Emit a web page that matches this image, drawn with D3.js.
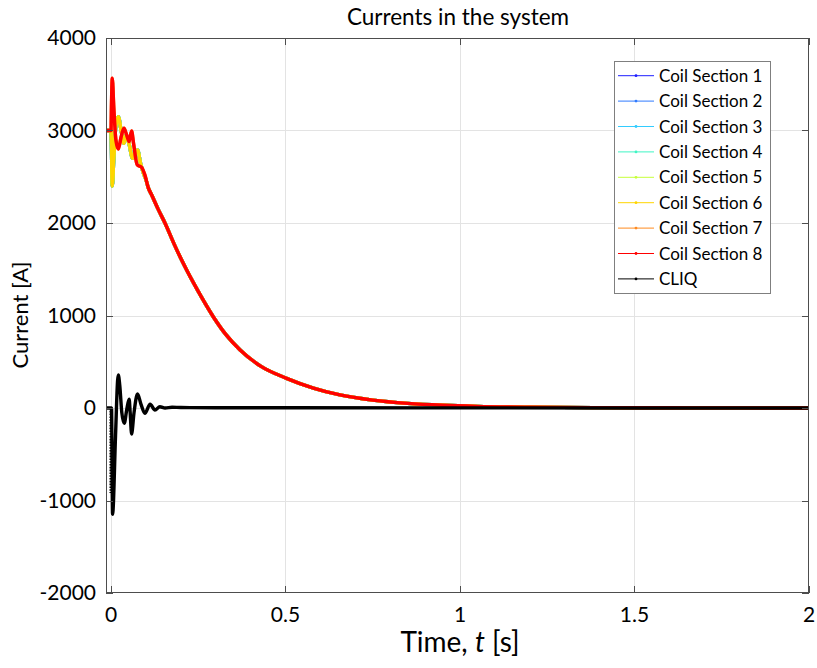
<!DOCTYPE html>
<html><head><meta charset="utf-8">
<script src="https://cdn.jsdelivr.net/npm/d3@7"></script>
<style>
body{margin:0;background:#fff;}
text{font-family:Lato,"Open Sans",sans-serif;fill:#000;}
</style></head>
<body><svg id="chart" width="817" height="668"></svg>
<script>
// ---------- data ----------
const seriesNames = ["Coil Section 1","Coil Section 2","Coil Section 3","Coil Section 4","Coil Section 5","Coil Section 6","Coil Section 7","Coil Section 8","CLIQ"];
const seriesColors = ["#1f1fff","#2f7bff","#33ccff","#3ff5c4","#c6ff3a","#ffd500","#ff8a1f","#ff0000","#000000"];

// shared decay tail (s) and values (A)
const tailT = [0.107,0.117,0.135,0.155,0.18,0.207,0.25,0.293,0.33,0.37,0.43,0.503,0.58,0.656,0.75,0.85,0.95,1.05,1.2,1.4,1.6,1.8,2.0];
const tailV = [2380,2300,2150,1997,1780,1564,1260,987,790,627,450,321,215,141,85,50,30,18,9,4,2,1,0];

// sections 1-6 (yellow trace visible on top of 1-5)
const coilAT = [-0.0143,0,0.0037,0.008,0.014,0.021,0.029,0.037,0.044,0.052,0.062,0.07,0.076,0.085,0.093,0.1].concat(tailT);
const coilAV = [3000,3000,2400,2700,3050,3150,3000,2862,2951,2850,2700,2760,2790,2640,2537,2470].concat(tailV);

// sections 7-8 (red trace)
const coilBT = [-0.0143,0,0.0015,0.0037,0.008,0.014,0.021,0.029,0.037,0.045,0.052,0.059,0.065,0.075,0.088,0.097].concat(tailT);
const coilBV = [3000,3000,3300,3565,3250,2900,2800,2930,3025,2950,2880,2995,2850,2630,2600,2520].concat(tailV);

// CLIQ current
const cliqT = [-0.0143,0.0015,0.0045,0.013,0.019,0.021,0.025,0.031,0.038,0.045,0.052,0.055,0.059,0.066,0.076,0.086,0.097,0.112,0.126,0.14,0.155,0.175,0.2,0.3,0.5,1.0,2.0];
const cliqV = [0,0,-1150,-300,300,357,250,-50,-166,-20,94,-50,-281,-50,151,40,-58,40,-22,14,0,8,5,3,2,1,0];
// CLIQ discharge instant, shown with markers
const cliqDropT = [-0.0012,-0.0012];
const cliqDropV = [0,-920];

const xTicks = [0,0.5,1,1.5,2];
const yTicks = [-2000,-1000,0,1000,2000,3000,4000];

const seriesT = [coilAT,coilAT,coilAT,coilAT,coilAT,coilAT,coilBT,coilBT,cliqT];
const seriesV = [coilAV,coilAV,coilAV,coilAV,coilAV,coilAV,coilBV,coilBV,cliqV];

// ---------- layout ----------
const svg = d3.select("#chart");
const L = 106, R = 809, T = 38, B = 593;
const x = d3.scaleLinear().domain([-0.0143, 2]).range([L, R]);
const y = d3.scaleLinear().domain([-2000, 4000]).range([B, T]);

svg.append("rect").attr("x",L).attr("y",T).attr("width",R-L).attr("height",B-T).attr("fill","#fff");

// grid
const grid = svg.append("g").attr("stroke","#e3e3e3").attr("stroke-width",1);
grid.selectAll("line.gx").data(xTicks.filter(d=>d<2)).enter().append("line")
  .attr("x1",d=>Math.round(x(d))+0.5).attr("x2",d=>Math.round(x(d))+0.5).attr("y1",T).attr("y2",B);
grid.selectAll("line.gy").data(yTicks.filter(d=>d>-2000&&d<4000)).enter().append("line")
  .attr("y1",d=>Math.round(y(d))+0.5).attr("y2",d=>Math.round(y(d))+0.5).attr("x1",L).attr("x2",R);

// curves
svg.append("clipPath").attr("id","clip").append("rect").attr("x",L).attr("y",T).attr("width",R-L).attr("height",B-T);
const plot = svg.append("g").attr("clip-path","url(#clip)");
const line = d3.line().x(d=>x(d[0])).y(d=>y(d[1])).curve(d3.curveMonotoneX);
seriesT.forEach((ts,i)=>{
  const pts = ts.map((t,j)=>[t, seriesV[i][j]]);
  plot.append("path").attr("d",line(pts)).attr("fill","none")
    .attr("stroke",seriesColors[i]).attr("stroke-width",3.4).attr("stroke-linejoin","round");
});
plot.append("path").attr("d",d3.line().x(d=>x(d[0])).y(d=>y(d[1]))(cliqDropT.map((t,j)=>[t,cliqDropV[j]])))
  .attr("stroke","#000").attr("stroke-width",2.2).attr("stroke-dasharray","1.6,1.2").attr("fill","none");

// axes box & ticks
const ax = svg.append("g").attr("stroke","#4d4d4d").attr("stroke-width",1).attr("fill","none");
ax.append("rect").attr("x",L+0.5).attr("y",T+0.5).attr("width",R-L-1).attr("height",B-T-1);
xTicks.forEach(d=>{
  const px = Math.round(x(d))+0.5;
  ax.append("line").attr("x1",px).attr("x2",px).attr("y1",B).attr("y2",B-7);
  ax.append("line").attr("x1",px).attr("x2",px).attr("y1",T).attr("y2",T+7);
});
yTicks.forEach(d=>{
  const py = Math.round(y(d))+0.5;
  ax.append("line").attr("x1",L).attr("x2",L+7).attr("y1",py).attr("y2",py);
  ax.append("line").attr("x1",R).attr("x2",R-7).attr("y1",py).attr("y2",py);
});

// tick labels
svg.selectAll("text.xt").data(xTicks).enter().append("text")
  .attr("x",d=>x(d)).attr("y",622).attr("text-anchor","middle").attr("font-size",21).text(d=>d);
svg.selectAll("text.yt").data(yTicks).enter().append("text")
  .attr("x",96).attr("y",d=>y(d)+7).attr("text-anchor","end").attr("font-size",21).text(d=>d);

// titles
svg.append("text").attr("x",458).attr("y",25).attr("text-anchor","middle").attr("font-size",22.5).text("Currents in the system");
const xl = svg.append("text").attr("x",460).attr("y",652).attr("text-anchor","middle").attr("font-size",28);
xl.append("tspan").text("Time, ");
xl.append("tspan").attr("font-style","italic").text("t");
xl.append("tspan").text(" [s]");
svg.append("text").attr("transform","translate(28,315) rotate(-90)").attr("text-anchor","middle").attr("font-size",22).text("Current [A]");

// legend
const lg = svg.append("g");
lg.append("rect").attr("x",614.5).attr("y",61.5).attr("width",156).attr("height",232).attr("fill","#fff").attr("stroke","#7f7f7f").attr("stroke-width",1);
seriesNames.forEach((n,i)=>{
  const cy = 75.7 + i*25.4;
  lg.append("line").attr("x1",618).attr("x2",654).attr("y1",cy).attr("y2",cy).attr("stroke",seriesColors[i]).attr("stroke-width",1);
  lg.append("circle").attr("cx",636).attr("cy",cy).attr("r",1.4).attr("fill",seriesColors[i]);
  lg.append("text").attr("x",659).attr("y",cy+6).attr("font-size",17).text(n);
});
</script></body></html>
